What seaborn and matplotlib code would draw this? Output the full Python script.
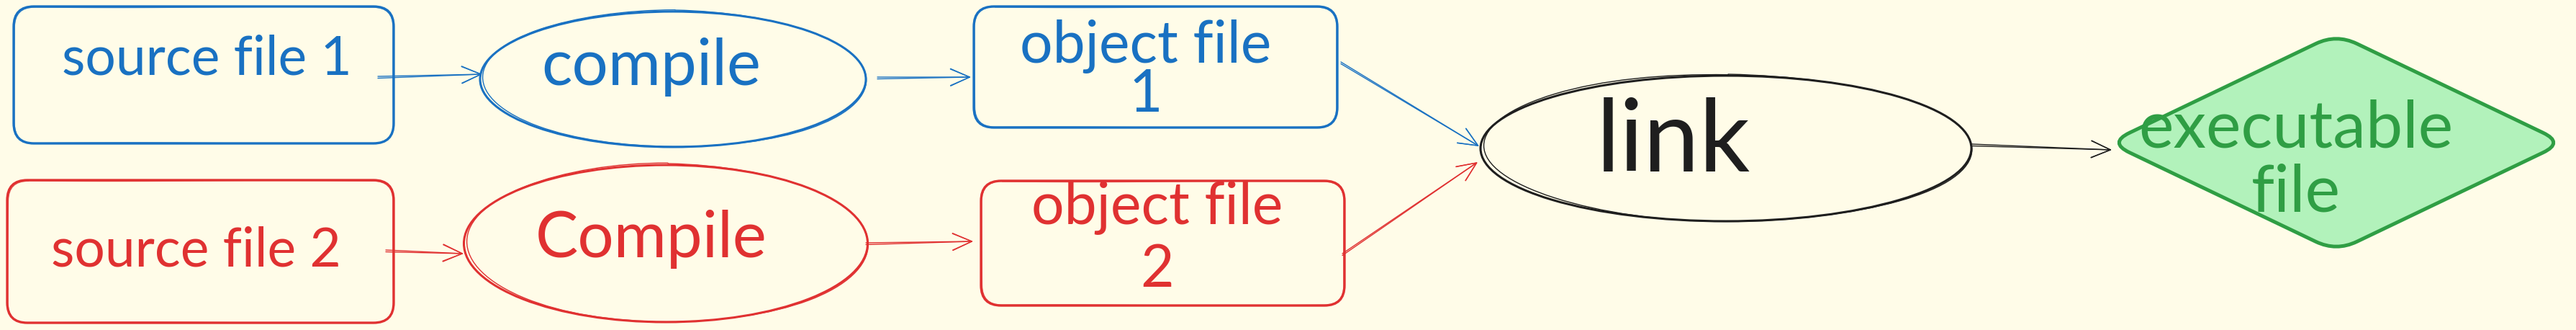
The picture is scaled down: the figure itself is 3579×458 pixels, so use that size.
import numpy as np
import matplotlib
matplotlib.use("Agg")
import matplotlib.pyplot as plt
import seaborn as sns
from matplotlib.patches import FancyBboxPatch, Ellipse, PathPatch
from matplotlib.path import Path

BG = "#fffce8"
BLUE = "#1971c2"
RED = "#e03131"
BLACK = "#1e1e1e"
GREEN = "#2f9e44"
GREEN_FILL = "#b2f2bb"

W, H = 3579, 458

# rounded boxes (pixel space, y down)
box_left = [19, 10, 1353, 1363]
box_top = [9, 250, 9, 251]
box_right = [547, 547, 1858, 1868]
box_bottom = [199, 448, 177, 424]
box_color = [BLUE, RED, BLUE, RED]

# ellipses
ell_cx = [935, 925, 2398]
ell_cy = [110, 338, 206]
ell_w = [536, 561, 682]
ell_h = [188, 218, 202]
ell_color = [BLUE, RED, BLACK]

# diamond
dia_cx, dia_cy, dia_w, dia_h = 3246, 198, 632, 302

# arrows
arr_x0 = [525, 536, 1219, 1203, 1863, 1865, 2740]
arr_y0 = [106, 347, 107, 337, 86, 352, 200]
arr_x1 = [670, 644, 1349, 1352, 2055, 2053, 2934]
arr_y1 = [103, 352, 107, 335, 203, 225, 208]
arr_color = [BLUE, RED, BLUE, RED, BLUE, RED, BLACK]

# labels (baseline of the last line)
text_lines = ["source file 1", "source file 2", "compile", "Compile",
              "object file\n1", "object file\n2", "link", "executable\nfile"]
text_x = [287, 272, 905, 905, 1592, 1608, 2325, 3190]
text_base = [103, 370, 118, 357, 155, 398, 238, 293]
text_size = [54, 54, 64, 64, 58, 58, 100, 66]
text_spacing = [1.0, 1.0, 1.0, 1.0, 0.88, 1.2, 1.0, 1.08]
text_color = [BLUE, RED, BLUE, RED, BLUE, RED, BLACK, GREEN]

sns.set_theme(style="white", rc={"figure.facecolor": BG, "axes.facecolor": BG})
plt.rcParams["font.family"] = ["Lato", "DejaVu Sans"]

fig = plt.figure(figsize=(W / 100, H / 100), dpi=100)
ax = fig.add_axes([0, 0, 1, 1])
ax.set_xlim(0, W)
ax.set_ylim(H, 0)
ax.axis("off")


def sketch(artist, amp=0.6):
    artist.set_sketch_params(scale=amp, length=500, randomness=2)
    return artist


# boxes, drawn twice for the double-stroke look
for l, t, r, b, c in zip(box_left, box_top, box_right, box_bottom, box_color):
    ax.add_patch(FancyBboxPatch((l, t), r - l, b - t,
                                boxstyle="round,pad=0,rounding_size=28",
                                fill=False, edgecolor=c, lw=2.4))
    ax.add_patch(sketch(FancyBboxPatch((l + 1.5, t + 1), r - l - 2, b - t - 1.5,
                                       boxstyle="round,pad=0,rounding_size=28",
                                       fill=False, edgecolor=c, lw=0.9, alpha=0.8)))

for cx, cy, w, h, c in zip(ell_cx, ell_cy, ell_w, ell_h, ell_color):
    ax.add_patch(Ellipse((cx, cy), w, h, fill=False, edgecolor=c, lw=2.2))
    ax.add_patch(sketch(Ellipse((cx + 2, cy - 1), w - 4, h + 2, angle=0.5,
                                fill=False, edgecolor=c, lw=1.0), 0.8))

# rounded diamond
verts = np.array([[dia_cx, dia_cy - dia_h / 2], [dia_cx + dia_w / 2, dia_cy],
                  [dia_cx, dia_cy + dia_h / 2], [dia_cx - dia_w / 2, dia_cy]])
t = 0.09
pts, codes = [], []
for i in range(4):
    v = verts[i]
    prv = verts[i - 1]
    nxt = verts[(i + 1) % 4]
    a = v + (prv - v) * t
    b = v + (nxt - v) * t
    pts.append(a)
    codes.append(Path.MOVETO if i == 0 else Path.LINETO)
    pts += [v, b]
    codes += [Path.CURVE3, Path.CURVE3]
pts.append(pts[0])
codes.append(Path.CLOSEPOLY)
ax.add_patch(PathPatch(Path(pts, codes), facecolor=GREEN_FILL, edgecolor=GREEN,
                       lw=3.6, joinstyle="round"))

# arrows
for x0, y0, x1, y1, c in zip(arr_x0, arr_y0, arr_x1, arr_y1, arr_color):
    for dy in [0, 2.5]:
        ax.annotate("", xy=(x1, y1), xytext=(x0, y0 + dy),
                    arrowprops=dict(arrowstyle="->,head_length=1.6,head_width=0.7",
                                    color=c, lw=1.0, shrinkA=0, shrinkB=0))

for s, x, y, fs, ls, c in zip(text_lines, text_x, text_base, text_size,
                              text_spacing, text_color):
    ax.text(x, y, s, ha="center", va="baseline", multialignment="center",
            fontsize=fs, linespacing=ls, color=c)

fig.savefig("out.png", dpi=100, facecolor=BG)
plt.close(fig)
